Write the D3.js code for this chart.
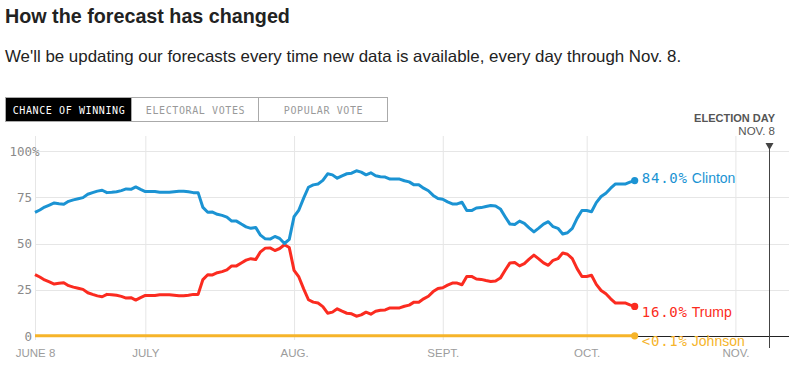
<!DOCTYPE html>
<html>
<head>
<meta charset="utf-8">
<script src="https://cdn.jsdelivr.net/npm/d3@7"></script>
<style>
  body { margin: 0; background: #fff; }
  svg { display: block; }
</style>
</head>
<body>
<div id="graphArea"></div>
<script>
// daily forecast, June 8 -> Oct 11 (chance of winning, %)
var startDay = "2016-06-08";
var electionDay = "2016-11-08";

var clinton = [
  66.8, 68.1, 69.7, 70.8, 71.9, 71.5, 71.2, 72.8, 73.6, 74.2,
  74.8, 76.6, 77.5, 78.3, 78.8, 77.5, 77.7, 78.0, 78.6, 79.5,
  79.3, 80.6, 79.3, 78.1, 78.1, 78.1, 77.7, 77.7, 77.7, 78.0,
  78.3, 78.3, 78.0, 77.5, 77.5, 69.5, 66.9, 67.0, 65.8, 65.2,
  64.3, 62.1, 62.1, 60.5, 59.0, 58.2, 58.7, 54.5, 52.5, 52.4,
  53.8, 52.7, 50.0, 52.2, 64.5, 68.1, 74.5, 80.4, 81.7, 82.2,
  84.1, 87.7, 87.1, 85.3, 86.6, 87.7, 88.0, 89.3, 88.6, 87.1,
  88.2, 86.6, 86.1, 85.9, 84.8, 84.8, 84.8, 83.9, 83.3, 81.7,
  81.7, 79.9, 78.5, 76.0, 74.3, 73.9, 72.5, 71.4, 71.4, 72.3,
  67.8, 67.8, 69.2, 69.4, 70.0, 70.5, 70.3, 68.7, 64.5, 60.5,
  60.3, 62.1, 60.9, 58.5, 56.3, 58.3, 60.5, 61.8, 59.1, 58.2,
  55.1, 55.8, 58.2, 63.6, 67.8, 67.8, 67.2, 72.1, 75.4, 77.2,
  79.9, 82.2, 82.2, 82.1, 83.2, 84.0
];

var trump = [
  33.2, 31.9, 30.3, 29.2, 28.1, 28.5, 28.8, 27.2, 26.4, 25.8,
  25.2, 23.4, 22.5, 21.7, 21.2, 22.5, 22.3, 22.0, 21.4, 20.5,
  20.7, 19.4, 20.7, 21.9, 21.9, 21.9, 22.3, 22.3, 22.3, 22.0,
  21.7, 21.7, 22.0, 22.5, 22.5, 30.5, 33.1, 33.0, 34.2, 34.8,
  35.7, 37.9, 37.9, 39.5, 41.0, 41.8, 41.3, 45.5, 47.5, 47.6,
  46.2, 47.3, 49.3, 47.8, 35.5, 31.9, 25.5, 19.6, 18.3, 17.8,
  15.9, 12.3, 12.9, 14.7, 13.4, 12.3, 12.0, 10.7, 11.4, 12.9,
  11.8, 13.4, 13.9, 14.1, 15.2, 15.2, 15.2, 16.1, 16.7, 18.3,
  18.3, 20.1, 21.5, 24.0, 25.7, 26.1, 27.5, 28.6, 28.6, 27.7,
  32.2, 32.2, 30.8, 30.6, 30.0, 29.5, 29.7, 31.3, 35.5, 39.5,
  39.7, 37.9, 39.1, 41.5, 43.7, 41.7, 39.5, 38.2, 40.9, 41.8,
  44.9, 44.2, 41.8, 36.4, 32.2, 32.2, 32.8, 27.9, 24.6, 22.8,
  20.1, 17.8, 17.8, 17.9, 16.8, 16.0
];

var johnson = [
  0.1, 0.1, 0.1, 0.1, 0.1, 0.1, 0.1, 0.1, 0.1, 0.1, 0.1, 0.1, 0.1, 0.1, 0.1, 0.1, 0.1, 0.1, 0.1, 0.1, 0.1,
  0.1, 0.1, 0.1, 0.1, 0.1, 0.1, 0.1, 0.1, 0.1, 0.1, 0.1, 0.1, 0.1, 0.1, 0.1, 0.1, 0.1, 0.1, 0.1, 0.1, 0.1,
  0.1, 0.1, 0.1, 0.1, 0.1, 0.1, 0.1, 0.1, 0.1, 0.1, 0.1, 0.1, 0.1, 0.1, 0.1, 0.1, 0.1, 0.1, 0.1, 0.1, 0.1,
  0.1, 0.1, 0.1, 0.1, 0.1, 0.1, 0.1, 0.1, 0.1, 0.1, 0.1, 0.1, 0.1, 0.1, 0.1, 0.1, 0.1, 0.1, 0.1, 0.1, 0.1,
  0.1, 0.1, 0.1, 0.1, 0.1, 0.1, 0.1, 0.1, 0.1, 0.1, 0.1, 0.1, 0.1, 0.1, 0.1, 0.1, 0.1, 0.1, 0.1, 0.1, 0.1,
  0.1, 0.1, 0.1, 0.1, 0.1, 0.1, 0.1, 0.1, 0.1, 0.1, 0.1, 0.1, 0.1, 0.1, 0.1, 0.1, 0.1, 0.1, 0.1, 0.1, 0.1
];

var seriesNames = ["Clinton", "Trump", "Johnson"];
var seriesLabels = ["84.0%", "16.0%", "<0.1%"];

var tabs = ["CHANCE OF WINNING", "ELECTORAL VOTES", "POPULAR VOTE"];

var xTickDates = ["2016-06-08", "2016-07-01", "2016-08-01", "2016-09-01", "2016-10-01", "2016-11-01"];
var xTickLabels = ["JUNE 8", "JULY", "AUG.", "SEPT.", "OCT.", "NOV."];
var yTicks = [0, 25, 50, 75, 100];

function visualize() {
    var w = 804, h = 367;
    var left = 35, right = 789, top = 151, bottom = 336;
    var colors = ["#1b93d3", "#fb2b20", "#f6b42a"];
    var mono = "'DejaVu Sans Mono', monospace";
    var sans = "'Liberation Sans', Arial, sans-serif";

    var parse = d3.timeParse("%Y-%m-%d");
    var start = parse(startDay);

    const svg = d3.select("#graphArea").append("svg").attr("width", w).attr("height", h);

    // header
    var title = svg.append("text")
        .attr("x", 5).attr("y", 23)
        .style("font-family", sans).style("font-weight", "bold")
        .style("font-size", "19.5px").style("fill", "#222")
        .text("How the forecast has changed");
    fitWidth(title, 285);

    var sub = svg.append("text")
        .attr("x", 5).attr("y", 62)
        .style("font-family", sans).style("font-size", "17px").style("fill", "#222")
        .text("We'll be updating our forecasts every time new data is available, every day through Nov. 8.");
    fitWidth(sub, 677);

    // tabs
    var tabX = [5, 131, 258, 387];
    var tabG = svg.append("g");
    tabs.forEach((t, i) => {
        tabG.append("rect")
            .attr("x", tabX[i] + 0.5).attr("y", 97.5)
            .attr("width", tabX[i + 1] - tabX[i]).attr("height", 24)
            .style("fill", i == 0 ? "#000" : "#fff")
            .style("stroke", "#aaa");
        tabG.append("text")
            .attr("x", (tabX[i] + tabX[i + 1]) / 2 + 1).attr("y", 113.5)
            .style("text-anchor", "middle")
            .style("font-family", mono).style("font-size", "10px")
            .style("letter-spacing", "0.6px")
            .style("fill", i == 0 ? "#fff" : "#999")
            .text(t);
    });

    var x = d3.scaleTime().domain([start, parse(electionDay)]).range([left, 769]);
    var y = d3.scaleLinear().domain([0, 100]).range([bottom, top]);

    // grid
    svg.append("g")
        .selectAll("line")
        .data(xTickDates)
        .enter()
        .append("line")
        .attr("x1", (d) => x(parse(d)) + 0.5).attr("x2", (d) => x(parse(d)) + 0.5)
        .attr("y1", 136).attr("y2", bottom + 4)
        .style("stroke", "#e6e6e6");

    svg.append("g")
        .selectAll("line")
        .data(yTicks)
        .enter()
        .append("line")
        .attr("x1", left).attr("x2", right)
        .attr("y1", (d) => Math.round(y(d)) + 0.5).attr("y2", (d) => Math.round(y(d)) + 0.5)
        .style("stroke", (d) => d == 0 ? "#222" : "#e6e6e6");

    // y axis labels
    var yAxis = d3.axisLeft(y).tickValues(yTicks).tickSize(0).tickPadding(0)
        .tickFormat((d) => d);
    var yAxisGroup = svg.append("g").attr("transform", "translate(32,0)").call(yAxis);
    yAxisGroup.select(".domain").remove();
    yAxisGroup.selectAll("text")
        .style("font-family", mono).style("font-size", "12.5px").style("fill", "#8a8a8a");
    svg.append("text")
        .attr("x", 32).attr("y", y(100)).attr("dy", "0.36em")
        .style("font-family", mono).style("font-size", "12.5px").style("fill", "#8a8a8a")
        .text("%");

    // x axis labels
    var xAxis = d3.axisBottom(x).tickValues(xTickDates.map(parse)).tickSize(0).tickPadding(0)
        .tickFormat((d, i) => xTickLabels[i]);
    var xAxisGroup = svg.append("g").attr("transform", "translate(0,349)").call(xAxis);
    xAxisGroup.select(".domain").remove();
    xAxisGroup.selectAll("text")
        .attr("dy", "0.72em")
        .style("font-family", sans).style("font-size", "11.5px").style("fill", "#9c9c9c");

    // election day marker
    var ex = Math.round(x(parse(electionDay))) + 0.5;
    svg.append("line")
        .attr("x1", ex).attr("x2", ex).attr("y1", 149).attr("y2", 348)
        .style("stroke", "#444");
    svg.append("path")
        .attr("d", "M" + (ex - 4) + ",143L" + (ex + 4) + ",143L" + ex + ",150Z")
        .style("fill", "#444");
    svg.append("text")
        .attr("x", 775).attr("y", 122)
        .style("text-anchor", "end")
        .style("font-family", sans).style("font-weight", "bold")
        .style("font-size", "11px").style("fill", "#555")
        .text("ELECTION DAY");
    svg.append("text")
        .attr("x", 775).attr("y", 135)
        .style("text-anchor", "end")
        .style("font-family", sans).style("font-size", "11.5px").style("fill", "#555")
        .text("NOV. 8");

    // lines
    var series = [clinton, trump, johnson];
    var line = d3.line()
        .x((d, i) => x(d3.timeDay.offset(start, i)))
        .y((d) => y(d));

    series.slice().reverse().forEach((s, j) => {
        var k = series.length - 1 - j;
        svg.append("path")
            .datum(s)
            .attr("d", line)
            .style("fill", "none")
            .style("stroke", colors[k])
            .style("stroke-width", 3)
            .style("stroke-linejoin", "round");
    });

    // end dots + labels
    var labelDy = [2, 10.3, 10];
    series.forEach((s, k) => {
        var last = s.length - 1;
        var px = x(d3.timeDay.offset(start, last));
        var py = y(s[last]);
        svg.append("circle")
            .attr("cx", px).attr("cy", py).attr("r", 3.6)
            .style("fill", colors[k]);

        var g = svg.append("g");
        var bg = g.append("rect").style("fill", "#fff");
        var t = g.append("text")
            .attr("x", px + 7).attr("y", py + labelDy[k])
            .style("fill", colors[k]);
        t.append("tspan")
            .style("font-family", mono).style("font-size", "14px")
            .style("letter-spacing", "0.8px")
            .text(seriesLabels[k]);
        t.append("tspan")
            .attr("dx", 4)
            .style("font-family", sans).style("font-size", "14px")
            .text(seriesNames[k]);
        var bb = t.node().getBBox();
        bg.attr("x", bb.x).attr("y", py + 1.5).attr("width", bb.width).attr("height", bb.y + bb.height - py - 4);
    });
}

function fitWidth(sel, target) {
    var len = sel.node().getComputedTextLength();
    var fs = parseFloat(sel.style("font-size"));
    sel.style("font-size", (fs * target / len) + "px");
}

document.addEventListener('DOMContentLoaded', () => {
    visualize();
});
</script>
</body>
</html>
